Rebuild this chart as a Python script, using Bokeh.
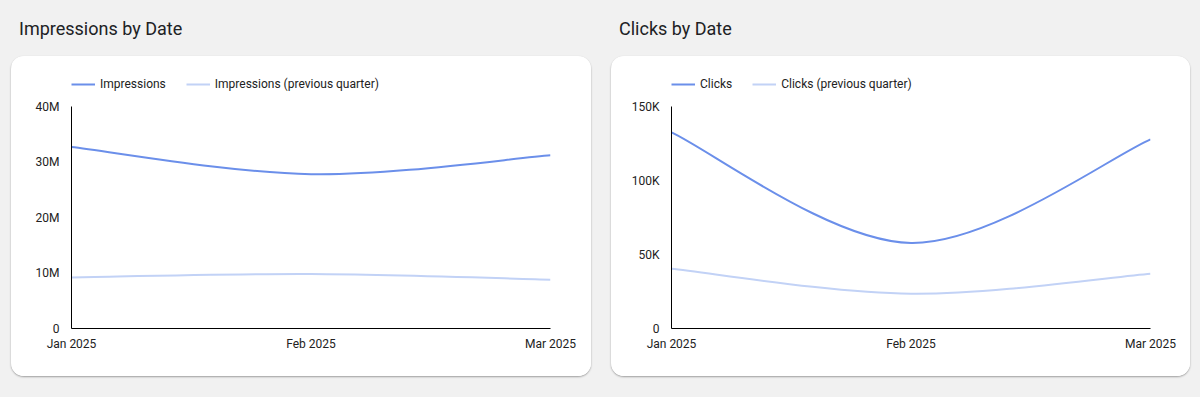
from bokeh.plotting import figure
from bokeh.models import (Legend, LegendItem, FixedTicker, Div, Range1d,
                          GlobalInlineStyleSheet, ColumnDataSource)
from bokeh.layouts import row, column
from bokeh.embed import file_html
from bokeh.resources import INLINE

# ---------------- data ----------------
months = ["Jan 2025", "Feb 2025", "Mar 2025"]
month_pos = [0, 1, 2]

impressions = [32.7e6, 27.8e6, 31.2e6]
impressions_prev = [9.2e6, 9.8e6, 8.8e6]

clicks = [132.5e3, 57.8e3, 127.8e3]
clicks_prev = [40.3e3, 23.5e3, 37.0e3]

imp_ticks = [0, 10_000_000, 20_000_000, 30_000_000, 40_000_000]
imp_tick_labels = ["0", "10M", "20M", "30M", "40M"]
click_ticks = [0, 50_000, 100_000, 150_000]
click_tick_labels = ["0", "50K", "100K", "150K"]

MAIN = "#6b8fea"
PREV = "#c2d2f6"
FONT = "Roboto"


def smooth_segments(xs, ys):
    """Cardinal (Catmull-Rom like) bezier control points through the data points."""
    n = len(xs)
    d = dict(x0=[], y0=[], x1=[], y1=[], cx0=[], cy0=[], cx1=[], cy1=[])
    for i in range(n - 1):
        xp, yp = (xs[i - 1], ys[i - 1]) if i > 0 else (xs[i], ys[i])
        xn, yn = (xs[i + 2], ys[i + 2]) if i + 2 < n else (xs[i + 1], ys[i + 1])
        d["x0"].append(xs[i]); d["y0"].append(ys[i])
        d["x1"].append(xs[i + 1]); d["y1"].append(ys[i + 1])
        d["cx0"].append(xs[i] + (xs[i + 1] - xp) / 6.0)
        d["cy0"].append(ys[i] + (ys[i + 1] - yp) / 6.0)
        d["cx1"].append(xs[i + 1] - (xn - xs[i]) / 6.0)
        d["cy1"].append(ys[i + 1] - (yn - ys[i]) / 6.0)
    return ColumnDataSource(d)


def make_card(title, cur, prev, names, ticks, tick_labels, width):
    frame_w = 479
    plot_h = 222          # height of the value area (0 .. top tick)
    card_h = 320
    bottom = 48
    frame_h = card_h - bottom       # frame extends to card top (legend lives there)
    ymax = ticks[-1]
    p = figure(width=width, height=card_h, output_backend="svg", toolbar_location=None,
               x_range=Range1d(0, 2), y_range=Range1d(0, ymax * frame_h / plot_h),
               min_border_left=60, min_border_right=width - 60 - frame_w,
               min_border_top=0, min_border_bottom=bottom,
               background_fill_color="white", border_fill_color="white",
               outline_line_color=None, margin=0,
               styles={"border-radius": "13px", "overflow": "hidden",
                       "box-shadow": "0 1px 2px rgba(0,0,0,0.35)",
                       "background-color": "white"})
    p.grid.visible = False

    r_cur = p.bezier(x0="x0", y0="y0", x1="x1", y1="y1", cx0="cx0", cy0="cy0",
                     cx1="cx1", cy1="cy1", source=smooth_segments(month_pos, cur),
                     line_color=MAIN, line_width=2)
    r_prev = p.bezier(x0="x0", y0="y0", x1="x1", y1="y1", cx0="cx0", cy0="cy0",
                      cx1="cx1", cy1="cy1", source=smooth_segments(month_pos, prev),
                      line_color=PREV, line_width=2)

    for ax in (p.xaxis[0], p.yaxis[0]):
        ax.axis_line_color = "black"
        ax.axis_line_width = 1
        ax.major_tick_line_color = None
        ax.minor_tick_line_color = None
        ax.major_tick_out = 0
        ax.major_tick_in = 0
        ax.major_label_text_font = FONT
        ax.major_label_text_font_size = "12px"
        ax.major_label_text_color = "#222222"

    p.xaxis.ticker = FixedTicker(ticks=month_pos)
    p.xaxis.major_label_overrides = {int(k): v for k, v in zip(month_pos, months)}
    p.xaxis.major_label_standoff = 8
    p.yaxis.ticker = FixedTicker(ticks=ticks)
    p.yaxis.major_label_overrides = {int(k): v for k, v in zip(ticks, tick_labels)}
    p.yaxis.major_label_standoff = 12
    p.yaxis.bounds = (0, ymax)

    legend = Legend(items=[LegendItem(label=names[0], renderers=[r_cur]),
                           LegendItem(label=names[1], renderers=[r_prev])],
                    orientation="horizontal", location=(0, plot_h + 15),
                    padding=0, margin=0, spacing=20,
                    glyph_width=24, glyph_height=14, label_height=14,
                    label_standoff=5, label_text_font=FONT,
                    label_text_font_size="12px", label_text_color="#222222",
                    background_fill_alpha=0, border_line_color=None)
    p.add_layout(legend, "center")

    head = Div(text='<div style="padding-top:8px;padding-left:8px;">%s</div>' % title,
               width=width, height=48, margin=0,
               styles={"font-family": FONT, "font-size": "18px", "color": "#202124"})
    return column(head, p, spacing=0, margin=0)


left = make_card("Impressions by Date", impressions, impressions_prev,
                 ["Impressions", "Impressions (previous quarter)"],
                 imp_ticks, imp_tick_labels, 580)
right = make_card("Clicks by Date", clicks, clicks_prev,
                  ["Clicks", "Clicks (previous quarter)"],
                  click_ticks, click_tick_labels, 579)

p = row(left, right, spacing=20, margin=(8, 0, 0, 11),
        stylesheets=[GlobalInlineStyleSheet(
            css="html,body{margin:0;padding:0;background:#f1f1f1;}")])

open("out.html", "w").write(file_html(p, INLINE))
